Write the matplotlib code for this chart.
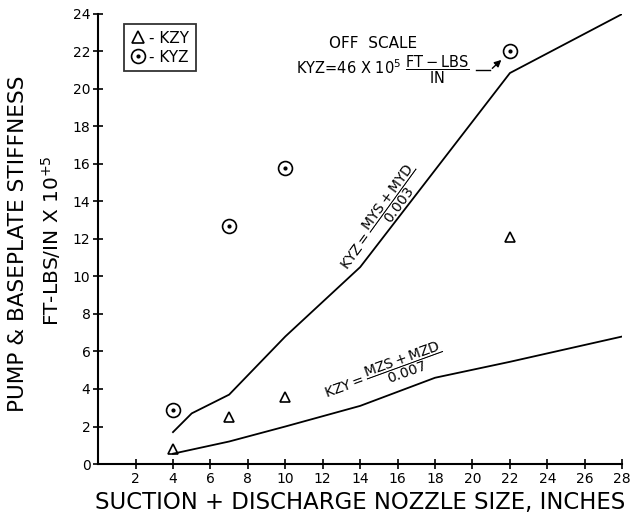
import matplotlib.pyplot as plt
from matplotlib.lines import Line2D

# Curve data
kyz_line_x = [4, 5, 7, 10, 14, 22, 28]
kyz_line_y = [1.7, 2.7, 3.7, 6.8, 10.5, 20.85, 24.0]

kzy_line_x = [4, 7, 10, 14, 18, 22, 28]
kzy_line_y = [0.55, 1.2, 2.0, 3.1, 4.6, 5.45, 6.8]

# Measured points
kyz_pts_x = [4, 7, 10, 22]
kyz_pts_y = [2.9, 12.7, 15.8, 22.0]

kzy_pts_x = [4, 7, 10, 22]
kzy_pts_y = [0.8, 2.5, 3.6, 12.1]

x_ticks = list(range(2, 29, 2))
y_ticks = list(range(0, 25, 2))

plt.rcParams['mathtext.fontset'] = 'dejavusans'

fig = plt.figure(figsize=(6.33, 5.17), dpi=100)
ax = fig.add_axes([0.155, 0.1025, 0.828, 0.8705])

# Lines
ax.plot(kyz_line_x, kyz_line_y, color='black', lw=1.3)
ax.plot(kzy_line_x, kzy_line_y, color='black', lw=1.3)

# Points
ax.plot(kzy_pts_x, kzy_pts_y, ls='none', marker='^', ms=7, mfc='none',
        mec='black', mew=1.2)
ax.plot(kyz_pts_x, kyz_pts_y, ls='none', marker='o', ms=10, mfc='none',
        mec='black', mew=1.2)
ax.plot(kyz_pts_x, kyz_pts_y, ls='none', marker='o', ms=2, color='black')

ax.set_xlim(0, 28)
ax.set_ylim(0, 24)
ax.set_xticks(x_ticks)
ax.set_yticks(y_ticks)
for s in ['top', 'right']:
    ax.spines[s].set_visible(False)
for s in ['left', 'bottom']:
    ax.spines[s].set_linewidth(1.5)
ax.tick_params(direction='inout', length=7, width=1.2, labelsize=10, pad=2)

ax.set_xlabel('SUCTION + DISCHARGE NOZZLE SIZE, INCHES', fontsize=16.4, labelpad=4)
fig.text(0.028, 0.528, 'PUMP & BASEPLATE STIFFNESS', rotation=90, fontsize=15.6,
         ha='center', va='center')
fig.text(0.08, 0.535, r'FT-LBS/IN X 10$^{+5}$', rotation=90, fontsize=14.5,
         ha='center', va='center')

# Legend
tri = Line2D([], [], ls='none', marker='^', ms=8, mfc='none', mec='black', mew=1.2)
circ = Line2D([], [], ls='none', marker='o', ms=10, mfc='none', mec='black', mew=1.2)
dot = Line2D([], [], ls='none', marker='o', ms=2, color='black')
leg = ax.legend([tri, (circ, dot)], ['- KZY', '- KYZ'], loc='upper left',
                bbox_to_anchor=(0.035, 0.995), fancybox=False, edgecolor='black',
                handlelength=0.9, handletextpad=0.3, borderpad=0.45,
                labelspacing=0.25, fontsize=11)
leg.get_frame().set_linewidth(1.3)

# Formula labels along curves
ax.text(15.1, 13.1, r'KYZ$=\dfrac{\mathrm{MYS+MYD}}{\mathrm{0.003}}$', rotation=54,
        ha='center', va='center', fontsize=10)
ax.text(15.3, 4.85, r'KZY$=\dfrac{\mathrm{MZS+MZD}}{\mathrm{0.007}}$', rotation=20,
        ha='center', va='center', fontsize=10)

# Off scale note
ax.text(14.7, 22.4, 'OFF  SCALE', ha='center', va='center', fontsize=11)
ax.text(15.2, 21.0, r'KYZ=46 X 10$^5$ $\dfrac{\mathrm{FT-LBS}}{\mathrm{IN}}$',
        ha='center', va='center', fontsize=10.5)
ax.plot([20.2, 20.95], [21.0, 21.0], color='black', lw=1)
ax.annotate('', xy=(21.65, 21.65), xytext=(20.95, 21.0),
            arrowprops=dict(arrowstyle='-|>', color='black', lw=1))

fig.savefig('out.png', dpi=100)
